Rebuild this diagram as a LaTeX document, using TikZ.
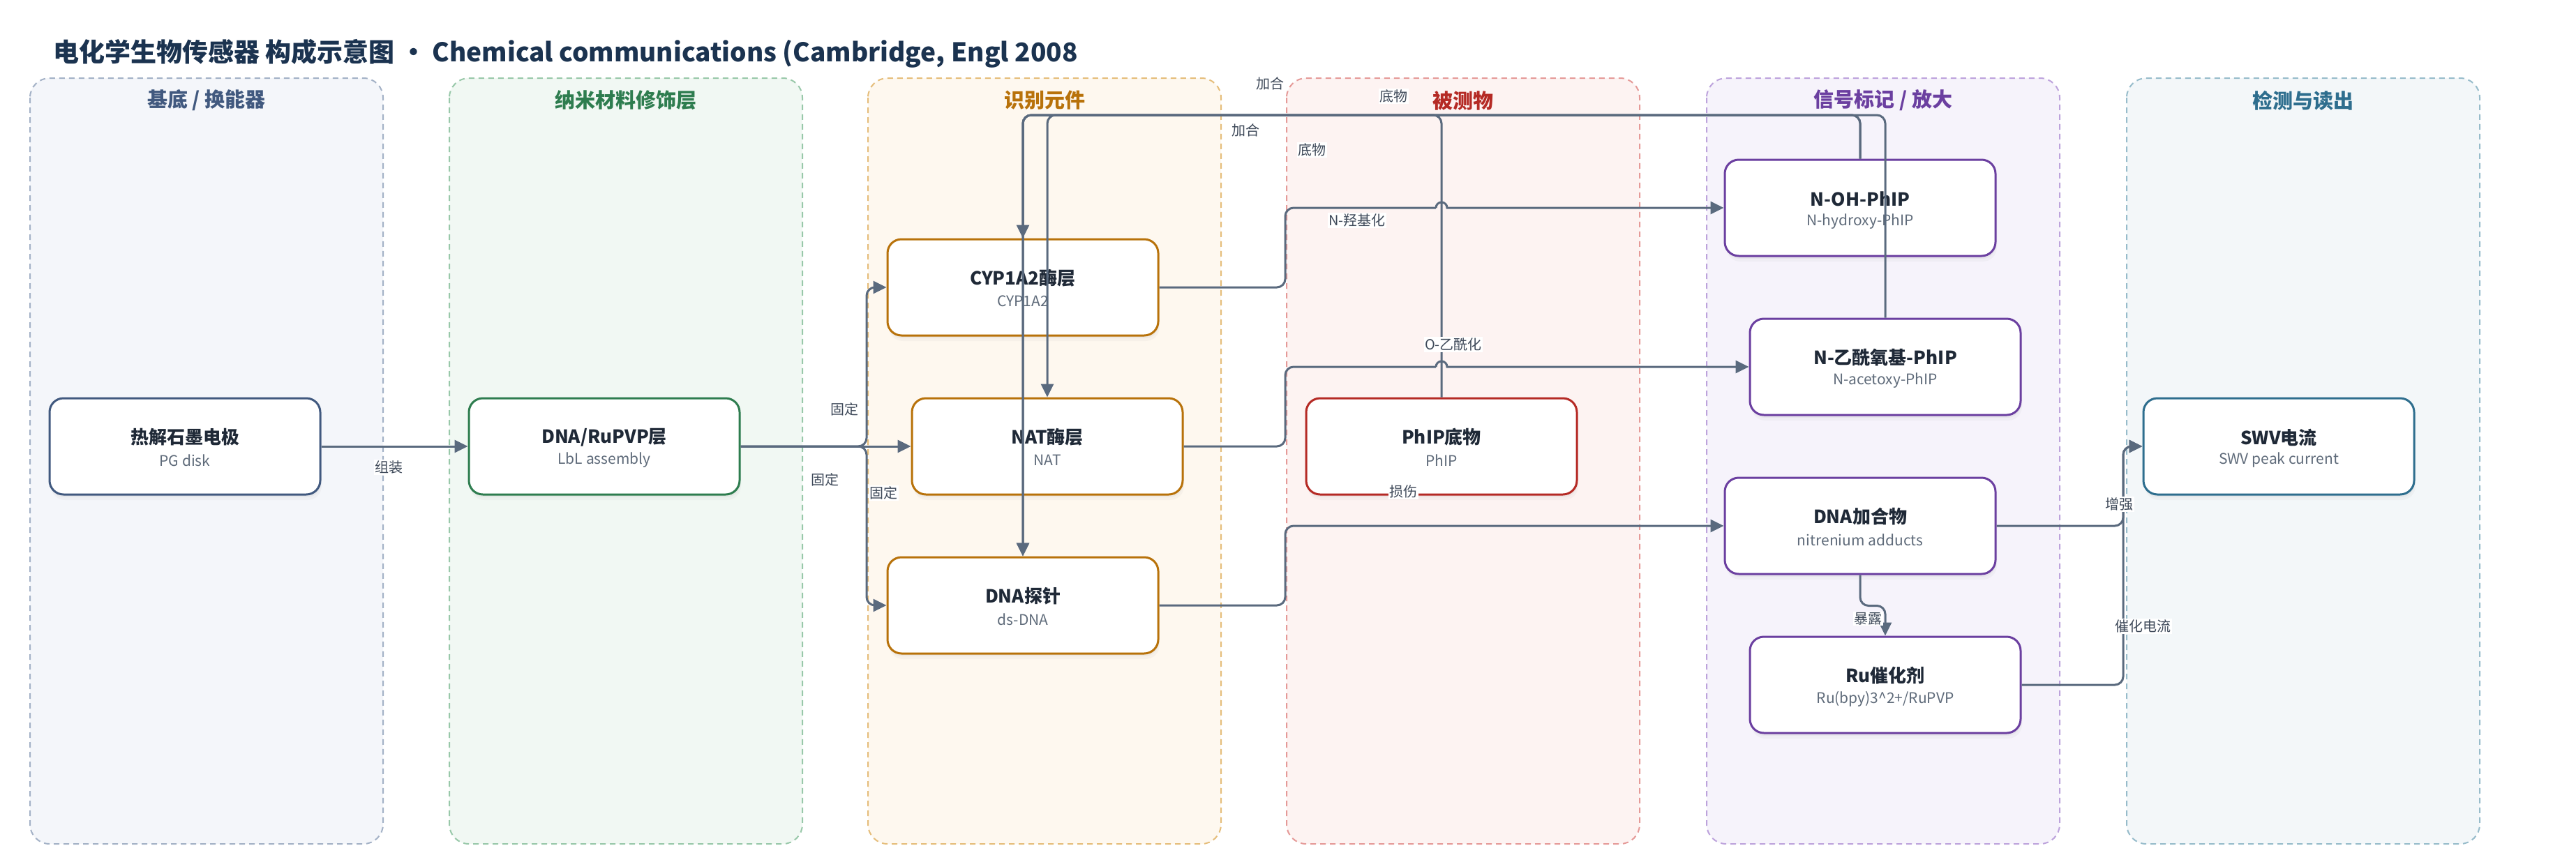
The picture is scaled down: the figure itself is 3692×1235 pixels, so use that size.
\documentclass[tikz,border=0pt]{standalone}
\usepackage{fontspec}
\setmainfont{Noto Sans CJK SC}
\usetikzlibrary{arrows.meta,shadows}
\definecolor{edgec}{HTML}{5A6A7E}
\definecolor{titlec}{HTML}{1B3350}
\definecolor{ntext}{HTML}{1F2937}
\definecolor{stext}{HTML}{5F6B7A}
\definecolor{ltext}{HTML}{3F4A5A}
\definecolor{cA}{HTML}{41597F}\definecolor{fA}{HTML}{F4F6FA}\definecolor{bA}{HTML}{A3B1C6}
\definecolor{cB}{HTML}{2E7D4F}\definecolor{fB}{HTML}{F1F8F3}\definecolor{bB}{HTML}{98C8A9}
\definecolor{cC}{HTML}{B8720A}\definecolor{fC}{HTML}{FEF8EF}\definecolor{bC}{HTML}{E5BD7A}
\definecolor{cD}{HTML}{B52A25}\definecolor{fD}{HTML}{FDF3F2}\definecolor{bD}{HTML}{E59A98}
\definecolor{cE}{HTML}{6B3FA0}\definecolor{fE}{HTML}{F6F3FB}\definecolor{bE}{HTML}{BDA3DC}
\definecolor{cF}{HTML}{2E6E8E}\definecolor{fF}{HTML}{F3F7F9}\definecolor{bF}{HTML}{97BCCB}
\newcommand\dbox[6]{%
  \node[box, draw=#4] (#1) at (#2,#3) {};
  \node[ttl] (#1-t) at (#2,{#3-13}) {#5};
  \node[sub] (#1-s) at (#2,{#3+20}) {#6};
}
\newcommand\lanebox[5]{% name, left, fill, border, header color/text
  \path[lane, fill=#3, draw=#4] (#2,112) rectangle ({#2+506},1210);
}
\begin{document}
\begin{tikzpicture}[x=1pt,y=-1pt,
  lane/.style={line width=2pt, dash pattern=on 8pt off 6pt, rounded corners=28pt},
  lhead/.style={font=\fontsize{29}{34}\selectfont\bfseries, inner sep=0pt},
  box/.style={line width=3pt, fill=white, rounded corners=20pt, minimum width=388pt, minimum height=138pt, inner sep=0pt,
     drop shadow={opacity=0.07, shadow xshift=1pt, shadow yshift=-4pt},
     drop shadow={opacity=0.05, shadow xshift=2pt, shadow yshift=-8pt}},
  ttl/.style={font=\fontsize{26}{30}\selectfont\bfseries, text=ntext, inner sep=0pt},
  sub/.style={font=\fontsize{21}{25}\selectfont, text=stext, inner sep=0pt},
  conn/.style={draw=edgec, line width=3pt, rounded corners=12pt, -{Triangle[length=19pt,width=18pt]}},
  seg/.style={draw=edgec, line width=3pt, rounded corners=12pt},
  elab/.style={fill=white, inner sep=1.5pt, text=ltext, font=\fontsize{20}{24}\selectfont}
]
\useasboundingbox (0,0) rectangle (3692,1235);
\fill[white] (0,0) rectangle (3692,1235);

% title
\node[anchor=west, inner sep=0pt, text=titlec, font=\fontsize{37}{44}\selectfont\bfseries] (title) at (76,77)
  {电化学生物传感器 构成示意图 · Chemical communications (Cambridge, Engl 2008};

% lanes
\lanebox{lA}{43}{fA}{bA}{}
\lanebox{lB}{644}{fB}{bB}{}
\lanebox{lC}{1244}{fC}{bC}{}
\lanebox{lD}{1844}{fD}{bD}{}
\lanebox{lE}{2446}{fE}{bE}{}
\lanebox{lF}{3048}{fF}{bF}{}
\node[lhead, text=cA] (hA) at (296,144) {基底 / 换能器};
\node[lhead, text=cB] (hB) at (897,144) {纳米材料修饰层};
\node[lhead, text=cC] (hC) at (1497,144) {识别元件};
\node[lhead, text=cD] (hD) at (2097,144) {被测物};
\node[lhead, text=cE] (hE) at (2699,144) {信号标记 / 放大};
\node[lhead, text=cF] (hF) at (3301,144) {检测与读出};

% nodes
\dbox{pg}{265}{640}{cA}{热解石墨电极}{PG disk}
\dbox{rup}{866}{640}{cB}{DNA/RuPVP层}{LbL assembly}
\dbox{cyp}{1466}{412}{cC}{CYP1A2酶层}{CYP1A2}
\dbox{nat}{1501}{640}{cC}{NAT酶层}{NAT}
\dbox{dnap}{1466}{868}{cC}{DNA探针}{ds-DNA}
\dbox{phip}{2066}{640}{cD}{PhIP底物}{PhIP}
\dbox{noh}{2666}{298}{cE}{N-OH-PhIP}{N-hydroxy-PhIP}
\dbox{nac}{2702}{526}{cE}{N-乙酰氧基-PhIP}{N-acetoxy-PhIP}
\dbox{add}{2666}{754}{cE}{DNA加合物}{nitrenium adducts}
\dbox{ru}{2702}{982}{cE}{Ru催化剂}{Ru(bpy)3\^{}2+/RuPVP}
\dbox{swv}{3266}{640}{cF}{SWV电流}{SWV peak current}

% routing coordinates
\coordinate (ytop) at (0,165);
\coordinate (xa) at (1242,0);
\coordinate (xb) at (1842,0);
\coordinate (xc) at (3043,0);
\coordinate (h1) at (2058,298);
\coordinate (h2) at (2058,526);

% connectors
\draw[conn] (pg.east) -- (rup.west);
\draw[conn] (rup.east) -- (rup.east -| xa) -- (xa |- cyp.west) -- (cyp.west);
\draw[conn] (rup.east) -- (nat.west);
\draw[conn] (rup.east) -- (rup.east -| xa) -- (xa |- dnap.west) -- (dnap.west);

\draw[conn] (phip.north) -- (phip.north |- ytop) -- (cyp.north |- ytop) -- (cyp.north);
\draw[conn] (noh.north) -- (noh.north |- ytop) -- (nat.north |- ytop) -- (nat.north);
\draw[conn] (nac.north) -- (nac.north |- ytop) -- (dnap.north |- ytop) -- (dnap.north);
\draw[conn] (noh.north) -- (noh.north |- ytop) -- (dnap.north |- ytop) -- (dnap.north);

\draw[seg] (cyp.east) -- (cyp.east -| xb) -- (xb |- noh.west) -- (h1);
\draw[conn, sharp corners] (h1) arc[start angle=180, end angle=0, radius=8pt] -- (noh.west);
\draw[seg] (nat.east) -- (nat.east -| xb) -- (xb |- nac.west) -- (h2);
\draw[conn, sharp corners] (h2) arc[start angle=180, end angle=0, radius=8pt] -- (nac.west);
\draw[conn] (dnap.east) -- (dnap.east -| xb) -- (xb |- add.west) -- (add.west);

\draw[conn] (add.south) -- ++(0,44) -| (ru.north);
\draw[conn] (add.east) -- (add.east -| xc) -- (xc |- swv.west) -- (swv.west);
\draw[conn] (ru.east) -- (ru.east -| xc) -- (xc |- swv.west) -- (swv.west);

% edge labels
\node[elab] (l1) at (557,670) {组装};
\node[elab] (l2) at (1210,587) {固定};
\node[elab] (l3) at (1182,688) {固定};
\node[elab] (l4) at (1266,707) {固定};
\node[elab] (l5) at (1945,316) {N-羟基化};
\node[elab] (l6) at (2083,494) {O-乙酰化};
\node[elab] (l7) at (2011,705) {损伤};
\node[elab] (l8) at (3037,723) {增强};
\node[elab] (l9) at (3071,898) {催化电流};
\node[elab] (l10) at (2677,887) {暴露};
\node[elab] (l11) at (1820,120) {加合};
\node[elab] (l12) at (1997,138) {底物};
\node[elab] (l13) at (1785,187) {加合};
\node[elab] (l14) at (1880,215) {底物};
\end{tikzpicture}
\end{document}
